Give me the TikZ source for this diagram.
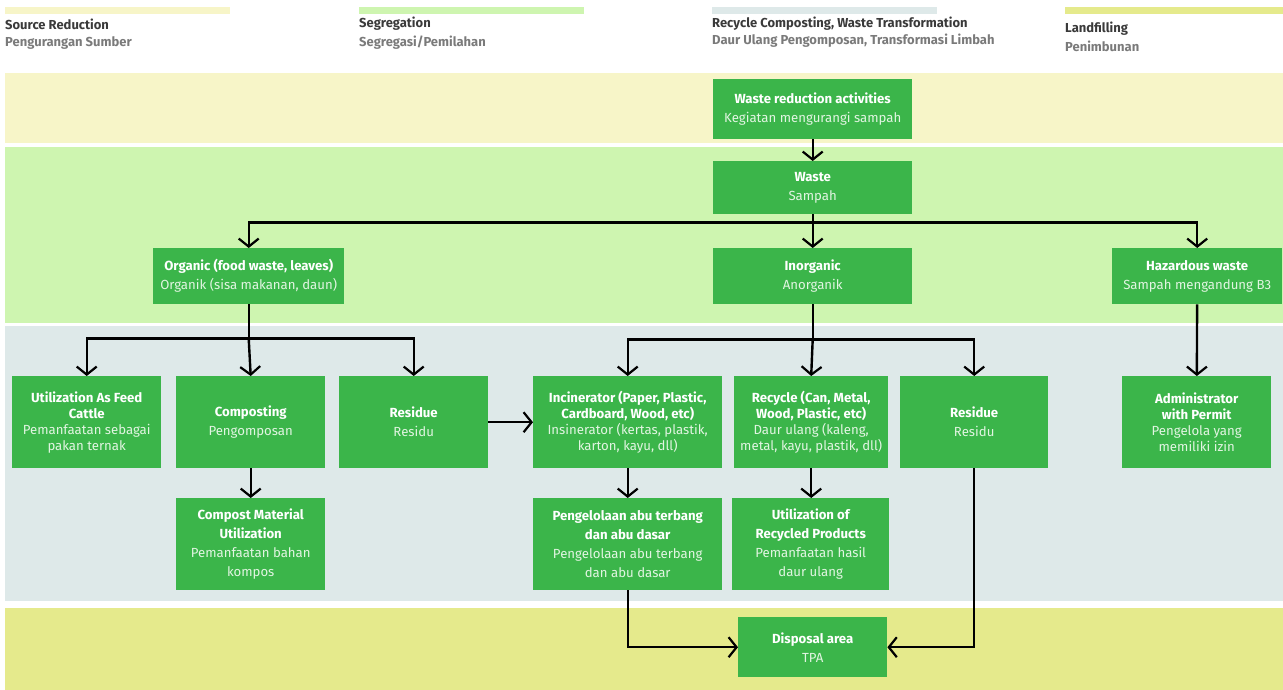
\documentclass[tikz,border=0pt]{standalone}
\usepackage{fontspec}
\setmainfont{Fira Sans}
\usetikzlibrary{arrows.meta}
\definecolor{bandA}{HTML}{F7F5C8}
\definecolor{bandB}{HTML}{CEF5B0}
\definecolor{bandC}{HTML}{DEE9E9}
\definecolor{bandD}{HTML}{E5EA8C}
\definecolor{boxgreen}{HTML}{3BB54A}
\definecolor{subwhite}{HTML}{E2F5E2}
\definecolor{legdark}{HTML}{3A3A3A}
\definecolor{leggray}{HTML}{7A7A7A}
\tikzset{
  box/.style={fill=boxgreen, text=white, align=center, inner sep=0pt, anchor=north west,
    font=\fontsize{13.2}{16}\selectfont},
  wide/.style={font=\fontsize{13.2}{19}\selectfont},
  conn/.style={line width=2.4pt, black},
  arr/.style={conn, -{Straight Barb[length=8pt,width=20pt,line width=2.2pt]}},
  legtxt/.style={anchor=west, inner sep=0pt, align=left, font=\bfseries\fontsize{13}{18}\selectfont},
}
\newcommand{\tl}{\bfseries}
\newcommand{\sbt}{\mdseries\color{subwhite}}
\begin{document}
\begin{tikzpicture}[x=1pt,y=-1pt]
\useasboundingbox (0,0) rectangle (1283,690);
% legend
\fill[bandA] (5,7) rectangle (230,14);
\fill[bandB] (359,7) rectangle (584,14);
\fill[bandC] (712,7) rectangle (937,14);
\fill[bandD] (1065,7) rectangle (1283,14);
\node[legtxt, text=legdark] (l1a) at (5,24) {Source Reduction};
\node[legtxt, text=leggray] (l1b) at (5,43) {Pengurangan Sumber};
\node[legtxt, text=legdark] (l2a) at (359,24) {Segregation};
\node[legtxt, text=leggray] (l2b) at (359,43) {Segregasi/Pemilahan};
\node[legtxt, text=legdark] (l3a) at (712,24) {Recycle Composting, Waste Transformation};
\node[legtxt, text=leggray] (l3b) at (712,41) {Daur Ulang Pengomposan, Transformasi Limbah};
\node[legtxt, text=legdark] (l4a) at (1065,29) {Landfilling};
\node[legtxt, text=leggray] (l4b) at (1065,46) {Penimbunan};
% bands
\fill[bandA] (5,73) rectangle (1283,143);
\fill[bandB] (5,147) rectangle (1283,323);
\fill[bandC] (5,326) rectangle (1283,601);
\fill[bandD] (5,608) rectangle (1283,690);
% boxes
\node[box, wide, minimum width=199pt, minimum height=60pt] (wra) at (713,79) {\tl Waste reduction activities\\\sbt Kegiatan mengurangi sampah};
\node[box, wide, minimum width=199pt, minimum height=53pt] (waste) at (713,161) {\tl Waste\\\sbt Sampah};
\node[box, wide, minimum width=191pt, minimum height=56pt] (org) at (153,248) {\tl Organic (food waste, leaves)\\\sbt Organik (sisa makanan, daun)};
\node[box, wide, minimum width=199pt, minimum height=56pt] (inorg) at (713,248) {\tl Inorganic\\\sbt Anorganik};
\node[box, wide, minimum width=170pt, minimum height=56pt] (haz) at (1112,248) {\tl Hazardous waste\\\sbt Sampah mengandung B3};
% row 3
\node[box, minimum width=149pt, minimum height=92pt] (feed) at (12,376) {\tl Utilization As Feed\\\tl Cattle\\\sbt Pemanfaatan sebagai\\\sbt pakan ternak};
\node[box, wide, minimum width=149pt, minimum height=92pt] (comp) at (176,376) {\tl Composting\\\sbt Pengomposan};
\node[box, wide, minimum width=149pt, minimum height=92pt] (res1) at (339,376) {\tl Residue\\\sbt Residu};
\node[box, minimum width=189pt, minimum height=92pt] (inc) at (533,376) {\tl Incinerator (Paper, Plastic,\\\tl Cardboard, Wood, etc)\\\sbt Insinerator (kertas, plastik,\\\sbt karton, kayu, dll)};
\node[box, minimum width=154pt, minimum height=92pt] (rec) at (734,376) {\tl Recycle (Can, Metal,\\\tl Wood, Plastic, etc)\\\sbt Daur ulang (kaleng,\\\sbt metal, kayu, plastik, dll)};
\node[box, wide, minimum width=148pt, minimum height=92pt] (res2) at (900,376) {\tl Residue\\\sbt Residu};
\node[box, minimum width=149pt, minimum height=92pt] (adm) at (1122,376) {\tl Administrator\\\tl with Permit\\\sbt Pengelola yang\\\sbt memiliki izin};
% row 4
\node[box, wide, minimum width=149pt, minimum height=92pt] (cmu) at (176,498) {\tl Compost Material\\\tl Utilization\\\sbt Pemanfaatan bahan\\\sbt kompos};
\node[box, wide, minimum width=189pt, minimum height=92pt] (abu) at (533,498) {\tl Pengelolaan abu terbang\\\tl dan abu dasar\\\sbt Pengelolaan abu terbang\\\sbt dan abu dasar};
\node[box, wide, minimum width=157pt, minimum height=92pt] (urp) at (732,498) {\tl Utilization of\\\tl Recycled Products\\\sbt Pemanfaatan hasil\\\sbt daur ulang};
\node[box, wide, minimum width=149pt, minimum height=60pt] (tpa) at (738,617) {\tl Disposal area\\\sbt TPA};
% connectors
\draw[arr] (wra) -- (waste);
\draw[conn] (waste.south) -- ++(0,8) coordinate (j1);
\draw[arr] (j1) -- (inorg);
\draw[arr] (j1) -| (org.north);
\draw[arr] (j1) -| (haz.north);
\draw[conn] (org.south) -- ++(0,34) coordinate (j2);
\draw[arr] (j2) -| (feed.north);
\draw[arr] (j2) -- (comp.north);
\draw[arr] (j2) -| (res1.north);
\draw[conn] (inorg.south) -- ++(0,35) coordinate (j3);
\draw[arr] (j3) -| (inc.north);
\draw[arr] (j3) -- (rec.north);
\draw[arr] (j3) -| (res2.north);
\draw[arr] (haz) -- (adm);
\draw[arr] (res1.east) -- (inc.west |- res1.east);
\draw[arr] (comp) -- (cmu);
\draw[arr] (inc) -- (abu);
\draw[arr] (rec.south) -- (rec.south |- urp.north);
\draw[arr] (abu.south) |- (tpa.west);
\draw[arr] (res2.south) |- (tpa.east);
\end{tikzpicture}
\end{document}
